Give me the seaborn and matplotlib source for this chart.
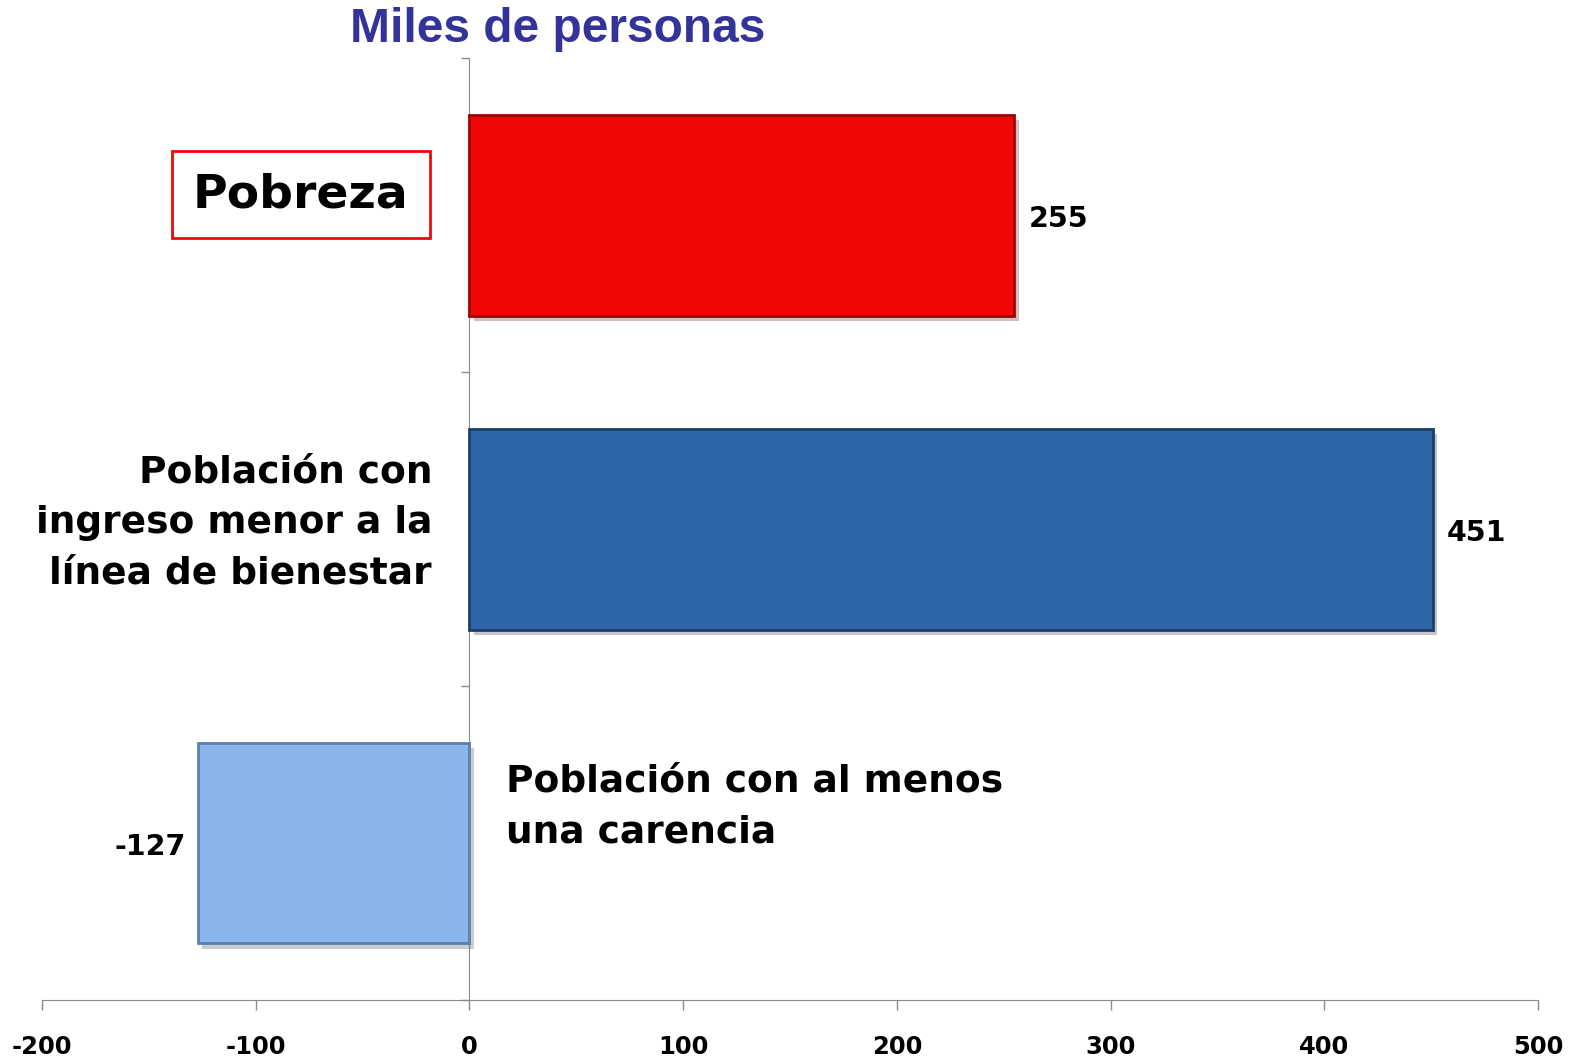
import seaborn as sns
import numpy as np
import pandas as pd
import matplotlib.pyplot as plt
import matplotlib.patheffects as pe

# datos (miles de personas)
categorias = ["Pobreza",
              "Población con\ningreso menor a la\nlínea de bienestar",
              "Población con al menos\nuna carencia"]
valores = [255, 451, -127]
colores = ["#F20707", "#2E66A8", "#8AB5EB"]
bordes = ["#9E0303", "#1B3F6B", "#5A7FAF"]
xticks = [-200, -100, 0, 100, 200, 300, 400, 500]

df = pd.DataFrame({"cat": categorias, "valor": valores})

sns.set_style("white")
plt.rcParams['font.family'] = ['DejaVu Sans']
plt.rcParams['text.color'] = 'black'
plt.rcParams['xtick.color'] = 'black'

fig = plt.figure(figsize=(15.75, 10.59), dpi=100)
ax = fig.add_axes([0.0267, 0.0557, 0.9498, 0.8895])

sns.barplot(data=df, x="valor", y="cat", hue="cat", palette=colores,
            saturation=1, orient="h", width=0.64, legend=False, ax=ax)

for bar, ec in zip(ax.patches, bordes):
    bar.set_edgecolor(ec)
    bar.set_linewidth(2)
    bar.set_path_effects([pe.SimplePatchShadow(offset=(3, -4), alpha=0.25), pe.Normal()])

ax.set_xlim(-200, 500)
ax.set_ylim(2.5, -0.5)
ax.set_xticks(xticks)
ax.set_xticklabels([str(t) for t in xticks], fontsize=17.5, fontweight="bold")
ax.set_yticks([-0.5, 0.5, 1.5, 2.5])
ax.set_yticklabels([])
ax.set_xlabel("")
ax.set_ylabel("")

for s in ["top", "right"]:
    ax.spines[s].set_visible(False)
ax.spines["left"].set_position(("data", 0))
ax.spines["left"].set_color("#8C8C8C")
ax.spines["bottom"].set_color("#8C8C8C")
ax.spines["left"].set_zorder(0)
ax.tick_params(axis="x", bottom=True, direction="out", length=7, width=1,
               color="#8C8C8C", labelcolor="black", pad=18)
ax.tick_params(axis="y", left=True, direction="out", length=6, width=1, color="#8C8C8C")

# etiquetas de valor
for i, v in enumerate(valores):
    if v >= 0:
        ax.annotate(str(v), (v, i + 0.012), xytext=(10, 0), textcoords="offset points",
                    ha="left", va="center", fontsize=20.5, fontweight="bold")
    else:
        ax.annotate(str(v), (v, i + 0.012), xytext=(-9, 0), textcoords="offset points",
                    ha="right", va="center", fontsize=20.5, fontweight="bold")

# etiquetas de categoria
ax.text(-79, -0.065, categorias[0], ha="center", va="center", fontsize=34,
        fontweight="bold",
        bbox=dict(boxstyle="square,pad=0.45", facecolor="white", edgecolor="#F20707", linewidth=2))
ax.text(-17.5, 0.981, categorias[1], ha="right", va="center", fontsize=27,
        fontweight="bold", linespacing=1.52)
ax.text(17, 1.885, categorias[2], ha="left", va="center", fontsize=27,
        fontweight="bold", linespacing=1.52)

fig.text(0.354, 0.972, "Miles de personas", ha="center", va="center",
         fontsize=34.5, fontweight="bold", color="#333399", family="Liberation Sans")

fig.savefig("out.png", dpi=100)
